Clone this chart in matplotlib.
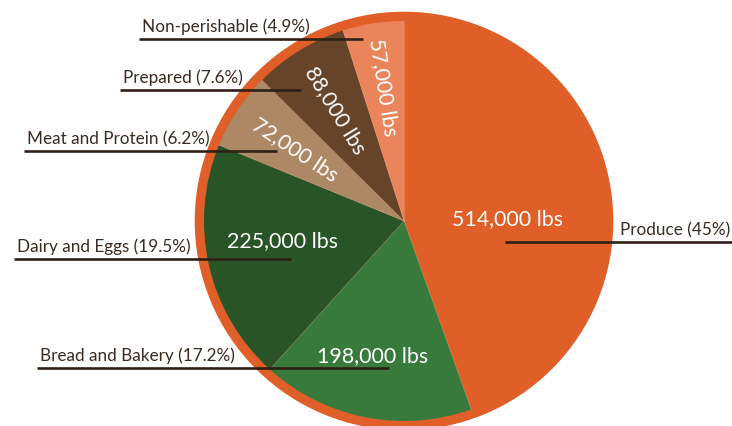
import matplotlib
matplotlib.use("Agg")
import matplotlib.pyplot as plt
import numpy as np

categories = ["Produce", "Bread and Bakery", "Dairy and Eggs", "Meat and Protein", "Prepared", "Non-perishable"]
values = [514000, 198000, 225000, 72000, 88000, 57000]
percent_labels = ["45%", "17.2%", "19.5%", "6.2%", "7.6%", "4.9%"]
value_labels = ["514,000 lbs", "198,000 lbs", "225,000 lbs", "72,000 lbs", "88,000 lbs", "57,000 lbs"]
colors = ["#E05E27", "#387A3C", "#285428", "#AD8865", "#65442A", "#EA855B"]

FONT = "Lato"
TEXT_C = "#3b2a20"
LINE_C = "#2e2016"

W, H = 732, 427
CX, CY, S = 404, 222, 200.0  # centre in px and px per unit

fig = plt.figure(figsize=(W / 100, H / 100), dpi=100)
ax = fig.add_axes([0, 0, 1, 1])


def px(x, y):
    return (x - CX) / S, (CY - y) / S


# orange ring behind the pie
ax.add_patch(plt.Circle((0, 0), 1.043, color=colors[0], zorder=0))

wedges, _ = ax.pie(values, colors=colors, startangle=90, counterclock=False,
                   radius=1.0, wedgeprops=dict(edgecolor="none", linewidth=0))
for w in wedges:
    w.set_zorder(1)
# thin light separators between slices
for w in wedges:
    a = np.deg2rad(w.theta1)
    ax.plot([0, np.cos(a)], [0, np.sin(a)], color=(1, 1, 1, 0.22), lw=0.6, zorder=2)

ax.set_xlim(-CX / S, (W - CX) / S)
ax.set_ylim((CY - H) / S, CY / S)
ax.set_aspect("equal")
ax.axis("off")

total = float(sum(values))
cum = 0.0
mids = []
for v in values:
    mids.append(90 - (cum + v / 2) / total * 360)
    cum += v

value_pos_px = [(508, 219), (373, 356), (283, 241), None, None, None]
label_r = [0, 0, 0, 0.655, 0.655, 0.68]
for i, lab in enumerate(value_labels):
    if value_pos_px[i] is not None:
        x, y = px(*value_pos_px[i])
        ax.text(x, y, lab, color="white", fontsize=15.4, family=FONT,
                ha="center", va="center", zorder=3)
    else:
        a = np.deg2rad(mids[i])
        x, y = label_r[i] * np.cos(a), label_r[i] * np.sin(a)
        ax.text(x, y, lab, color="white", fontsize=15.4, family=FONT,
                ha="center", va="center", rotation=mids[i] + 180,
                rotation_mode="anchor", zorder=3)

# leader lines and category labels (y px, x start px, x end px, align)
leaders = [
    (243, 505, 732, "right"),
    (369, 37, 389, "left"),
    (260, 14, 291, "left"),
    (152, 24, 277, "left"),
    (91, 120, 301, "left"),
    (40, 139, 363, "left"),
]
for i, (ly, x0, x1, al) in enumerate(leaders):
    xa, ya = px(x0, ly)
    xb, yb = px(x1, ly)
    ax.plot([xa, xb], [ya, yb], color=LINE_C, lw=1.9, solid_capstyle="butt", zorder=4)
    txt = f"{categories[i]} ({percent_labels[i]})"
    if al == "left":
        tx, ty = px(x0 + 3, ly - 8)
    else:
        tx, ty = px(x1 - 2, ly - 8)
    ax.text(tx, ty, txt, color=TEXT_C, fontsize=12.3, family=FONT,
            ha=al, va="baseline", zorder=5)

fig.savefig("out.png", dpi=100)
